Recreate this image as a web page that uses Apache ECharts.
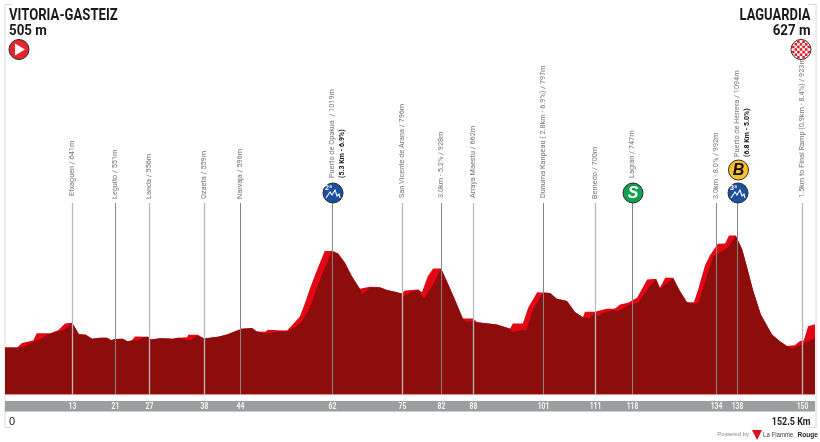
<!DOCTYPE html>
<html><head><meta charset="utf-8">
<style>html,body{margin:0;padding:0;background:#fff}#c{width:820px;height:442px}</style>
<script src="https://cdn.jsdelivr.net/npm/echarts@6/dist/echarts.min.js"></script>
</head><body><div id="c"></div>
<script>
const profileKm=[0,2.3,3.2,5.3,6.0,8.5,10.0,11.3,12.6,13.2,13.9,15.2,16.4,17.9,19.2,20.0,20.7,22.2,23.0,23.9,24.5,26.9,27.5,29.2,30.7,31.6,32.6,34.3,34.5,36.3,37.5,38.6,40.1,41.8,43.7,44.6,46.5,47.4,49.0,49.5,51.2,53.1,54.0,55.5,56.5,57.4,58.4,60.2,61.8,62.7,64.0,65.3,66.8,68.7,70.6,71.9,73.4,74.7,75.3,77.8,78.5,79.6,80.6,82.1,83.2,84.7,86.2,88.1,88.9,92.6,95.1,95.6,97.5,98.5,100.2,102.6,103.9,105.8,107.3,108.8,109.2,111.1,112.0,113.3,114.8,115.8,117.3,119.0,120.9,122.6,123.3,124.3,125.8,127.1,128.4,129.7,130.5,131.8,132.7,134.2,135.6,136.3,137.6,138.8,139.9,140.8,142.3,144.4,145.9,147.2,148.7,149.6,150.4,151.2,152.5];
const profileM=[505,505,528,542,580,580,596,631,635,610,575,572,551,556,556,543,549,551,538,543,563,561,547,554,552,551,556,559,572,572,552,556,561,573,594,603,607,589,588,598,596,594,621,667,740,814,889,1012,1012,1000,951,880,814,824,822,807,798,789,805,810,796,880,921,921,854,758,658,658,637,626,603,631,631,714,796,792,761,749,691,664,693,693,700,709,709,731,740,767,863,867,819,872,872,801,743,743,810,938,989,1051,1052,1094,1094,1021,907,810,679,573,538,512,516,538,543,617,627];
const faceKm=[0,2.3,3.6,4.5,5.6,7.0,7.9,9.4,10.9,11.9,12.6,13.2,13.9,15.2,16.4,17.9,19.2,20.0,20.7,22.2,23.0,23.9,25.0,26.0,26.9,27.5,29.2,30.7,31.6,32.6,34.3,35.2,36.1,37.5,38.6,40.1,41.8,43.7,44.6,46.5,47.4,49.0,51.2,53.1,54.6,55.9,57.0,57.8,58.7,59.7,61.5,61.8,62.7,64.0,65.3,66.8,67.2,68.7,70.6,71.9,73.4,74.7,74.9,75.9,77.8,78.9,80.6,82.1,83.2,84.7,86.2,86.8,88.1,88.9,92.6,95.1,95.5,97.0,97.5,98.1,99.4,101.3,102.6,103.9,105.8,107.3,108.8,110.1,111.1,111.6,113.0,114.8,115.4,117.7,119.2,121.4,122.6,123.3,125.8,127.1,128.4,129.0,130.5,131.8,133.3,134.0,136.1,137.6,138.8,139.9,140.8,142.3,144.4,145.9,147.2,148.2,149.7,151.2,152.5];
const faceM=[505,505,510,523,537,552,573,584,594,616,635,610,575,572,551,556,556,543,549,551,538,540,542,559,561,547,554,552,551,556,543,547,568,552,556,561,573,594,603,607,589,577,589,590,610,642,694,742,816,889,1010,1012,1000,951,880,814,784,821,820,807,798,789,770,789,808,763,837,921,854,758,658,642,642,637,626,603,586,594,600,591,705,794,792,761,749,691,664,658,688,670,691,701,696,731,740,828,863,814,868,801,743,737,737,847,985,994,1031,1091,1021,907,810,679,573,538,512,498,516,538,552];
const pointKm=[12.6,20.8,27.2,37.5,44.2,61.6,74.7,82.0,88.1,101.2,111.1,118.1,133.9,137.8,150.0];
const pointTicks=['13','21','27','38','44','62','75','82','88','101','111','118','134','138','150'];
const pointNames=['Etxaguen / 641m','Leguito / 551m','Landa / 556m','Ozaeta / 559m','Narvaja / 596m','Puerto de Opakua  / 1019m','San Vicente de Arana / 796m','3.0km - 5.2% / 928m','Arraya Maestu / 662m','Dunuma Kanpeau ( 2.8km - 6.9%) / 797m','Bernedo / 700m','Lagrán / 747m','3.0km - 8.0% / 992m','Puerto de Herrera / 1094m','1.5km to Final Ramp (0.9km - 8.4%) / 923m'];
const pointDetails=['','','','','','(5.3 Km - 6.9%)','','','','','','','','(6.8 Km - 5.0%)',''];
const pointIcons=['','','','','','2','','','','','','S','','3B',''];
const pointDark=[0,1,0,0,1,1,0,1,0,1,0,1,1,1,0];
const pointLabelBase=[196,199,199,199,199,178,198,198,198,198,199,178,199,157,198];

const F='"Roboto","Liberation Sans",sans-serif';
const chart=echarts.init(document.getElementById('c'),null,{renderer:'canvas'});
const MIN=260,MAX=2000;
function zip(a,b){return a.map((v,i)=>[v,b[i]]);}
function climb(x,y,n){return [
 {type:'circle',shape:{cx:x,cy:y,r:10},style:{fill:'#1d4f9f',stroke:'#2b2b2b',lineWidth:1}},
 {type:'text',x:x-4.5,y:y-4.5,style:{text:n+'ª',fill:'#fff',font:'bold 7px '+F,align:'center',verticalAlign:'middle'}},
 {type:'polyline',shape:{points:[[x-7,y+5],[x-3,y-1],[x-1,y+2],[x+2,y-3],[x+4,y+3],[x+6,y+1],[x+7,y+5]]},style:{stroke:'#fff',fill:null,lineWidth:1.1}}
];}
function renderPoint(p,api){
 const i=api.value(2),km=api.value(0);
 const x=Math.round(api.coord([km,MIN])[0])+0.5,bot=api.coord([km,MIN])[1];
 const kids=[];
 kids.push({type:'line',shape:{x1:x,y1:203,x2:x,y2:bot},style:{stroke:pointDark[i]?'#858585':'#b9b9b9',lineWidth:pointDark[i]?1:1.3}});
 kids.push({type:'text',x:x,y:406.5,scaleX:0.8,style:{text:pointTicks[i],fill:'#f4f4f4',font:'bold 8.5px '+F,align:'center',verticalAlign:'middle'}});
 kids.push({type:'text',x:x,y:pointLabelBase[i],rotation:Math.PI/2,scaleX:0.97,style:{text:pointNames[i],fill:'#777',font:'7.5px '+F,align:'left',verticalAlign:'middle'}});
 if(pointDetails[i]) kids.push({type:'text',x:x+9.5,y:pointLabelBase[i],rotation:Math.PI/2,style:{text:pointDetails[i],fill:'#111',font:'bold 7px '+F,align:'left',verticalAlign:'middle'}});
 const ic=pointIcons[i];
 if(ic==='2') kids.push(...climb(x+0.5,193,2));
 if(ic==='3B'){
  kids.push(...climb(x+0.5,193,3));
  kids.push({type:'circle',shape:{cx:x+1,cy:170,r:10},style:{fill:'#fbc02d',stroke:'#2b2b2b',lineWidth:1}});
  kids.push({type:'text',x:x+1,y:170.5,style:{text:'B',fill:'#111',font:'italic bold 16px "Liberation Sans",sans-serif',align:'center',verticalAlign:'middle'}});
 }
 if(ic==='S'){
  kids.push({type:'circle',shape:{cx:x+0.5,cy:193,r:10},style:{fill:'#12a150',stroke:'#2b2b2b',lineWidth:1}});
  kids.push({type:'text',x:x+0.5,y:193.5,style:{text:'S',fill:'#fff',font:'italic bold 16px "Liberation Sans",sans-serif',align:'center',verticalAlign:'middle'}});
 }
 return {type:'group',children:kids};
}
const checker=[];
for(let r=-3;r<=3;r++)for(let c=-3;c<=3;c++){
 if((r+c+12)%2===0 && Math.hypot(r,c)*2.6<9.6) checker.push({type:'rect',shape:{x:801+c*2.6-1.3,y:49.5+r*2.6-1.3,width:2.6,height:2.6},style:{fill:'#e0202a'},z:7});
}
chart.setOption({
 animation:false,backgroundColor:'#fff',
 grid:{left:5,right:5,top:63.4,bottom:48,containLabel:false},
 xAxis:{type:'value',min:0,max:152.5,show:false},
 yAxis:{type:'value',min:MIN,max:MAX,show:false},
 series:[
  {type:'line',z:2,data:zip(profileKm,profileM),showSymbol:false,silent:true,lineStyle:{width:0},areaStyle:{color:'#e30613',opacity:1}},
  {type:'line',z:3,data:zip(faceKm,faceM),showSymbol:false,silent:true,lineStyle:{width:0},areaStyle:{color:'#8d0d0c',opacity:1}},
  {type:'custom',z:5,silent:true,clip:false,data:pointKm.map((k,i)=>[k,MIN,i]),encode:{x:0,y:1},renderItem:renderPoint}
 ],
 graphic:[
  {type:'polyline',shape:{points:[[12,4.5],[5,4.5],[5,427.5],[12,427.5]]},style:{stroke:'#dcdcdc',fill:null,lineWidth:1},z:1},
  {type:'polyline',shape:{points:[[808,4.5],[816,4.5],[816,427.5],[808,427.5]]},style:{stroke:'#dcdcdc',fill:null,lineWidth:1},z:1},
  {type:'rect',shape:{x:5,y:394,width:810,height:1},style:{fill:'#e58a8a'},z:4},
  {type:'rect',shape:{x:5,y:401,width:810,height:10.5},style:{fill:'#9b9e9f'},z:1},
  {type:'text',x:9,y:15.5,scaleX:0.795,style:{text:'VITORIA-GASTEIZ',fill:'#1a1a1a',font:'bold 16.5px '+F,verticalAlign:'middle'},z:6},
  {type:'text',x:9,y:31,scaleX:0.92,style:{text:'505 m',fill:'#1a1a1a',font:'bold 14.5px '+F,verticalAlign:'middle'},z:6},
  {type:'text',x:810.5,y:15.5,scaleX:0.785,style:{text:'LAGUARDIA',fill:'#1a1a1a',font:'bold 16.5px '+F,align:'right',verticalAlign:'middle'},z:6},
  {type:'text',x:810.5,y:31,scaleX:0.92,style:{text:'627 m',fill:'#1a1a1a',font:'bold 14.5px '+F,align:'right',verticalAlign:'middle'},z:6},
  {type:'circle',shape:{cx:19,cy:49.5,r:10},style:{fill:'#e8262a',stroke:'#2b2b2b',lineWidth:1},z:6},
  {type:'polygon',shape:{points:[[15,43.5],[15,55.5],[25,49.5]]},style:{fill:'#fff'},z:7},
  {type:'circle',shape:{cx:801,cy:49.5,r:10},style:{fill:'#fff',stroke:'#2b2b2b',lineWidth:1},z:6},
  ...checker,
  {type:'text',x:9,y:422,style:{text:'0',fill:'#222',font:'11px "Liberation Sans",sans-serif',verticalAlign:'middle'},z:6},
  {type:'text',x:810.5,y:422,scaleX:0.85,style:{text:'152.5 Km',fill:'#222',font:'bold 10.5px '+F,align:'right',verticalAlign:'middle'},z:6},
  {type:'text',x:749,y:434.5,style:{text:'Powered by',fill:'#888',font:'6px "Liberation Sans",sans-serif',align:'right',verticalAlign:'middle'},z:6},
  {type:'polygon',shape:{points:[[752,430],[762,430],[757,440]]},style:{fill:'#d9141c'},z:6},
  {type:'text',x:763,y:434.5,scaleX:0.76,style:{text:'La Flamme',fill:'#444',font:'8px "Liberation Sans",sans-serif',verticalAlign:'middle'},z:6},
  {type:'text',x:818,y:434.5,scaleX:0.82,style:{text:'Rouge',fill:'#222',font:'bold 8px "Liberation Sans",sans-serif',align:'right',verticalAlign:'middle'},z:6}
 ]
});
</script></body></html>
